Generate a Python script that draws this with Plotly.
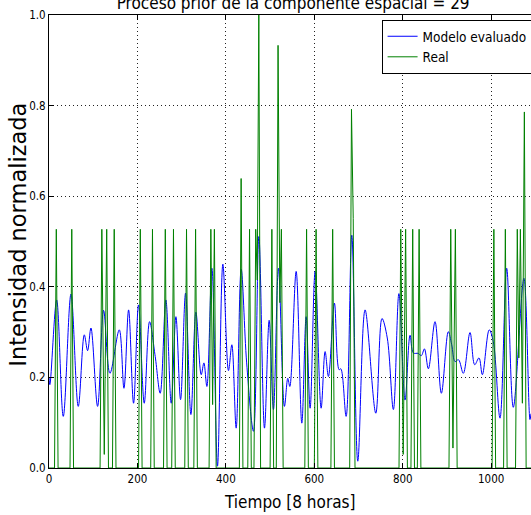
import plotly.graph_objects as go

# Model output: turning points of the evaluated intensity curve (time in 8-hour steps)
model_t = [0, 2, 17.3, 32.3, 49.7, 66.2, 79.8, 87.3, 94.9, 109.9, 123.4, 137.8,
           158.9, 169.5, 180, 191.2, 202.5, 215.4, 227.4, 240.2, 251.5, 264.3,
           276.4, 287, 297.5, 308.8, 320.9, 332.2, 344.2, 350.3, 357, 368.4,
           381, 393.2, 405.9, 413.5, 423.3, 434.6, 447, 462.4, 474.6, 487.3,
           497.9, 507.6, 518.9, 532.4, 540, 544.6, 558.9, 571.7, 581.5, 590.5,
           601.8, 615.4, 624.4, 631.9, 645.4, 656, 660, 671.9, 684.7, 698.3,
           714.8, 739, 753, 765, 778.8, 791.3, 805.2, 816.5, 824, 835, 842,
           849, 857.9, 873, 887.3, 903, 910.7, 918.2, 926, 937, 952.1, 962.7,
           972.4, 980, 995.5, 1004.7, 1019.9, 1035, 1050, 1074, 1087.7, 1090]
model_v = [0.20, 0.184, 0.371, 0.114, 0.384, 0.136, 0.294, 0.259, 0.309, 0.136,
           0.348, 0.209, 0.305, 0.176, 0.349, 0.143, 0.360, 0.143, 0.323, 0.246,
           0.165, 0.371, 0.143, 0.334, 0.151, 0.386, 0.118, 0.344, 0.206, 0.232,
           0.180, 0.441, 0.004, 0.450, 0.215, 0.272, 0.088, 0.439, 0.232, 0.081,
           0.511, 0.088, 0.326, 0.129, 0.441, 0.136, 0.198, 0.180, 0.434, 0.099,
           0.334, 0.132, 0.434, 0.132, 0.257, 0.202, 0.364, 0.217, 0.219, 0.114,
           0.514, 0.015, 0.349, 0.121, 0.330, 0.287, 0.129, 0.385, 0.150, 0.293,
           0.254, 0.253, 0.248, 0.263, 0.219, 0.323, 0.165, 0.301, 0.272, 0.235,
           0.239, 0.209, 0.299, 0.228, 0.243, 0.206, 0.305, 0.279, 0.110, 0.441,
           0.134, 0.419, 0.107, 0.120]

# Observed (real) normalized intensity: event times and their values
real_t = [16.5, 51.5, 119.5, 125, 130.5, 147.5, 206.5, 234, 263, 281.5, 311,
          331.5, 366, 370, 374, 434.5, 453.5, 467.5, 471, 474.5, 504, 518, 522,
          525.5, 582.5, 604, 641.5, 684, 688, 795.5, 801, 806.5, 822.5, 837,
          908.5, 913.5, 919, 1006, 1032, 1059, 1062.5, 1066, 1070.5, 1075]
real_v = [0.527, 0.527, 0.527, 0.03, 0.527, 0.527, 0.527, 0.527, 0.527, 0.527,
          0.527, 0.527, 0.527, 0.14, 0.527, 0.639, 0.527, 0.527, 0.415, 1.0,
          0.527, 0.933, 0.365, 0.527, 0.527, 0.527, 0.527, 0.792, 0.551, 0.527,
          0.03, 0.527, 0.527, 0.527, 0.527, 0.044, 0.527, 0.527, 0.527, 0.527,
          0.243, 0.527, 0.143, 0.786]

x_max = 1090
half_w = 4.0  # half base width of each event pulse

# Build the pulse polyline: zeros between separated events
rx, ry = [0.0], [0.0]
prev = None
for t, v in zip(real_t, real_v):
    if prev is None or t - prev > 2 * half_w:
        if prev is not None:
            rx.append(prev + half_w); ry.append(0.0)
        rx.append(t - half_w); ry.append(0.0)
    rx.append(t); ry.append(v)
    prev = t
rx.append(prev + half_w); ry.append(0.0)
rx.append(x_max); ry.append(0.0)

narrow = "DejaVu Sans Condensed, Liberation Sans Narrow, DejaVu Sans, sans-serif"

fig = go.Figure()
fig.add_trace(go.Scatter(
    x=model_t, y=model_v, mode="lines", name="Modelo evaluado",
    line=dict(color="#0000ff", width=1, shape="spline", smoothing=1.0)))
fig.add_trace(go.Scatter(
    x=rx, y=ry, mode="lines", name="Real",
    line=dict(color="#008000", width=1)))

axis_common = dict(
    showline=True, linecolor="black", linewidth=1,
    ticks="inside", ticklen=5, tickcolor="black",
    showgrid=True, gridcolor="#222222", gridwidth=1, griddash="1px,3px",
    zeroline=False, tickfont=dict(family=narrow, size=11.5, color="black"),
)

fig.update_layout(
    width=531, height=515,
    margin=dict(l=49, r=0, t=15, b=47, autoexpand=False),
    paper_bgcolor="white", plot_bgcolor="white",
    showlegend=True,
    legend=dict(x=0.69, y=0.989, xanchor="left", yanchor="top",
                bgcolor="white", bordercolor="black", borderwidth=1,
                font=dict(family=narrow, size=13.5, color="black"),
                tracegroupgap=0),
    title=dict(text="Proceso prior de la componente espacial = 29",
               x=0.5065, xref="paper", xanchor="center",
               y=1 - 3.5 / 515, yref="container", yanchor="middle",
               font=dict(family=narrow, size=17, color="black")),
    xaxis=dict(range=[0, x_max], tickvals=[0, 200, 400, 600, 800, 1000],
               mirror="ticks", **axis_common),
    yaxis=dict(range=[0, 1], tickvals=[0, 0.2, 0.4, 0.6, 0.8, 1.0],
               tickformat=".1f", mirror=False, **axis_common),
    annotations=[
        dict(text="Tiempo [8 horas]", xref="paper", yref="paper",
             x=0.5, y=0, xanchor="center", yanchor="middle", yshift=-34,
             showarrow=False, font=dict(family=narrow, size=17, color="black")),
        dict(text="Intensidad normalizada", xref="paper", yref="paper",
             x=0, y=0.515, xanchor="center", yanchor="middle", xshift=-31,
             textangle=-90, showarrow=False,
             font=dict(family="DejaVu Sans", size=22.5, color="black")),
    ],
)

fig.write_html("out.html")
